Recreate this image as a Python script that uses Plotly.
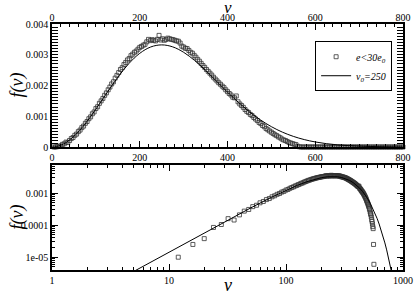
import plotly.graph_objects as go

# ---- data ----
v_data = list(range(4, 804, 4))
f_nonzero = [
    0, 0, 1.0e-5, 2.5e-5, 3.8e-5, 8.5e-5, 1.05e-4, 1.6e-4, 1.45e-4, 2.1e-4,      # 4..40
    2.75e-4, 3.1e-4, 3.8e-4, 4.2e-4, 5.0e-4, 5.5e-4, 6.3e-4, 6.8e-4, 7.7e-4, 8.3e-4,  # 44..80
    9.2e-4, 9.8e-4, 1.08e-3, 1.14e-3, 1.25e-3, 1.31e-3, 1.42e-3, 1.50e-3, 1.58e-3, 1.68e-3,  # 84..120
    1.76e-3, 1.86e-3, 1.95e-3, 2.05e-3, 2.12e-3, 2.24e-3, 2.33e-3, 2.42e-3, 2.52e-3, 2.58e-3,  # 124..160
    2.68e-3, 2.75e-3, 2.83e-3, 2.88e-3, 2.97e-3, 3.02e-3, 3.08e-3, 3.12e-3, 3.18e-3, 3.24e-3,  # 164..200
    3.27e-3, 3.31e-3, 3.34e-3, 3.42e-3, 3.50e-3, 3.46e-3, 3.49e-3, 3.47e-3, 3.45e-3, 3.50e-3,  # 204..240
    3.63e-3, 3.48e-3, 3.52e-3, 3.47e-3, 3.50e-3, 3.54e-3, 3.52e-3, 3.50e-3, 3.49e-3, 3.47e-3,  # 244..280
    3.45e-3, 3.44e-3, 3.38e-3, 3.28e-3, 3.25e-3, 3.21e-3, 3.20e-3, 3.14e-3, 3.08e-3, 3.05e-3,  # 284..320
    2.98e-3, 2.92e-3, 2.85e-3, 2.79e-3, 2.72e-3, 2.65e-3, 2.59e-3, 2.52e-3, 2.46e-3, 2.40e-3,  # 324..360
    2.34e-3, 2.27e-3, 2.21e-3, 2.15e-3, 2.09e-3, 2.04e-3, 1.98e-3, 1.93e-3, 1.86e-3, 1.80e-3,  # 364..400
    1.74e-3, 1.69e-3, 1.62e-3, 1.60e-3, 1.66e-3, 1.47e-3, 1.40e-3, 1.35e-3, 1.29e-3, 1.22e-3,  # 404..440
    1.16e-3, 1.12e-3, 1.06e-3, 1.02e-3, 9.6e-4, 9.1e-4, 8.6e-4, 8.0e-4, 7.6e-4, 7.0e-4,  # 444..480
    6.6e-4, 6.0e-4, 5.6e-4, 5.2e-4, 4.8e-4, 4.4e-4, 4.0e-4, 3.7e-4, 3.3e-4, 3.0e-4,  # 484..520
    2.6e-4, 2.3e-4, 2.1e-4, 1.8e-4, 1.5e-4, 1.3e-4, 1.1e-4, 9.0e-5, 7.8e-5, 2.5e-5,  # 524..560
    6.0e-6,  # 564
]
f_data = f_nonzero + [0.0] * (len(v_data) - len(f_nonzero))

v_curve = [0, 5, 10, 20, 30, 50, 75, 100, 125, 150, 175, 200, 225, 250, 275, 300,
           325, 350, 375, 400, 425, 450, 475, 500, 525, 550, 575, 600, 625, 650,
           675, 700, 725, 750, 775, 800]
f_curve = [0, 3.6e-6, 1.44e-5, 5.74e-5, 1.28e-4, 3.47e-4, 7.43e-4, 1.231e-3, 1.758e-3,
           2.267e-3, 2.710e-3, 3.046e-3, 3.253e-3, 3.321e-3, 3.257e-3, 3.080e-3,
           2.815e-3, 2.492e-3, 2.141e-3, 1.786e-3, 1.450e-3, 1.146e-3, 8.82e-4,
           6.61e-4, 4.84e-4, 3.46e-4, 2.41e-4, 1.64e-4, 1.09e-4, 7.07e-5, 4.49e-5,
           2.79e-5, 1.69e-5, 1.00e-5, 5.82e-6, 3.30e-6]

lin_x_ticks = [0, 200, 400, 600, 800]
log_x_ticks = [1, 10, 100, 1000]
log_x_labels = ["1", "10", "100", "1000"]
log_y_ticks = [1e-5, 1e-4, 1e-3]
log_y_labels = ["1e-05", "0.0001", "0.001"]

SERIF = "Times New Roman, Liberation Serif, serif"

marker = dict(symbol="square-open", size=4, color="#333333",
              line=dict(width=0.8, color="#333333"))

fig = go.Figure()
fig.add_trace(go.Scatter(x=v_data, y=f_data, mode="markers", marker=marker,
                         name="<i>e&lt;30e<sub>0</sub></i>", xaxis="x", yaxis="y",
                         cliponaxis=False))
fig.add_trace(go.Scatter(x=v_curve, y=f_curve, mode="lines",
                         line=dict(color="black", width=1, shape="spline"),
                         name="<i>v<sub>0</sub>=250</i>", xaxis="x", yaxis="y"))
fig.add_trace(go.Scatter(x=v_data, y=f_data, mode="markers", marker=marker,
                         showlegend=False, xaxis="x2", yaxis="y2"))
fig.add_trace(go.Scatter(x=v_curve[1:], y=f_curve[1:], mode="lines",
                         line=dict(color="black", width=1),
                         showlegend=False, xaxis="x2", yaxis="y2"))
fig.add_trace(go.Scatter(x=[0], y=[None], xaxis="x3", yaxis="y", showlegend=False,
                         hoverinfo="skip", mode="markers"))

minor_logx = [k * 10 ** d for d in range(0, 3) for k in range(2, 10)]
minor_logy = [k * 10.0 ** d for d in range(-6, -2) for k in range(2, 10)]

tickfont = dict(family=SERIF, size=10, color="black")
common = dict(showline=True, linecolor="black", linewidth=1.5, ticks="inside",
              ticklen=6, tickwidth=1, tickcolor="black", showgrid=False,
              zeroline=False, mirror="allticks", tickfont=tickfont,
              automargin=False)

top_dom = [0.5, 1.0]
bot_dom = [0.0, 0.4268]
title_font = dict(family=SERIF, size=18, color="black")

fig.update_layout(
    width=415, height=295,
    margin=dict(l=52, r=12, t=24, b=25),
    paper_bgcolor="white", plot_bgcolor="white",
    font=dict(family=SERIF, color="black"),
    showlegend=True,
    legend=dict(x=0.969, y=0.93, xanchor="right", yanchor="top",
                bordercolor="black", borderwidth=1, bgcolor="white",
                font=dict(family=SERIF, size=10), itemwidth=30,
                tracegroupgap=0),
    xaxis=dict(domain=[0, 1], anchor="y", range=[0, 800], tickmode="array",
               tickvals=lin_x_ticks,
               minor=dict(tickmode="linear", tick0=0, dtick=20, ticks="inside",
                          ticklen=3, tickcolor="black", showgrid=False),
               **common),
    xaxis3=dict(domain=[0, 1], anchor="y", overlaying="x", side="top",
                range=[0, 800], tickmode="array", tickvals=lin_x_ticks,
                showline=False, ticks="", showgrid=False, zeroline=False,
                tickfont=tickfont, automargin=False),
    yaxis=dict(domain=top_dom, anchor="x", range=[0, 0.004], tickmode="linear",
               tick0=0, dtick=0.001,
               minor=dict(tickmode="linear", tick0=0, dtick=0.0001, ticks="inside",
                          ticklen=3, tickcolor="black", showgrid=False),
               **common),
    xaxis2=dict(domain=[0, 1], anchor="y2", type="log", range=[0, 3],
                tickmode="array", tickvals=log_x_ticks, ticktext=log_x_labels,
                minor=dict(tickmode="array", tickvals=minor_logx, ticks="inside",
                           ticklen=3, tickcolor="black", showgrid=False),
                **common),
    yaxis2=dict(domain=bot_dom, anchor="x2", type="log", range=[-5.4, -2.12],
                tickmode="array", tickvals=log_y_ticks, ticktext=log_y_labels,
                minor=dict(tickmode="array", tickvals=minor_logy, ticks="inside",
                           ticklen=3, tickcolor="black", showgrid=False),
                **common),
    annotations=[
        dict(text="<i>v</i>", xref="paper", yref="paper", x=0.5, y=1.069,
             xanchor="center", yanchor="middle", showarrow=False,
             font=dict(family=SERIF, size=17, color="black")),
        dict(text="<i>v</i>", xref="paper", yref="paper", x=0.5, y=-0.062,
             xanchor="center", yanchor="middle", showarrow=False, font=title_font),
        dict(text="<i>f(v)</i>", xref="paper", yref="paper", x=-0.0997, y=0.75,
             xanchor="center", yanchor="middle", textangle=-90, showarrow=False,
             font=title_font),
        dict(text="<i>f(v)</i>", xref="paper", yref="paper", x=-0.0997, y=0.2134,
             xanchor="center", yanchor="middle", textangle=-90, showarrow=False,
             font=title_font),
    ],
)

fig.write_html("out.html", config={"displayModeBar": False},
               post_script="document.body.style.margin='0px';")
